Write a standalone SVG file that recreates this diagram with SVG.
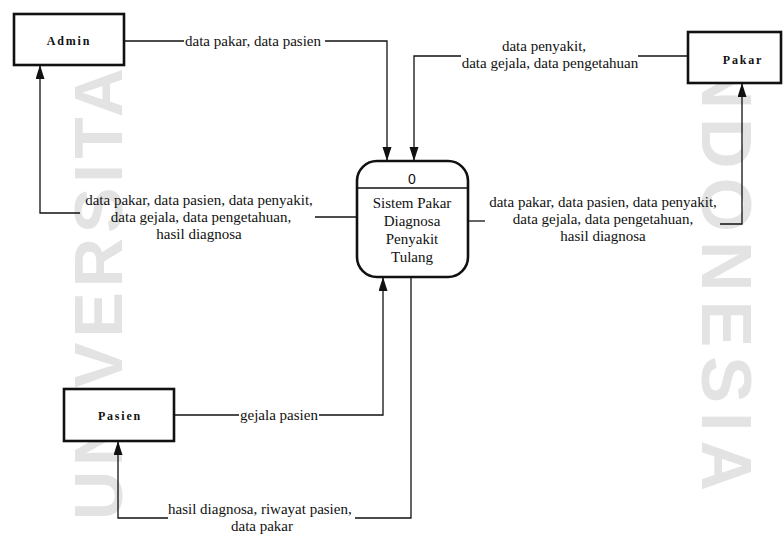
<svg xmlns="http://www.w3.org/2000/svg" width="783" height="534" viewBox="0 0 783 534">
  <style>
    .wm { font-family: "Liberation Sans", Arial, sans-serif; font-weight: bold; fill: #e3e3e3; }
    .lbl { font-family: "Liberation Serif", "Times New Roman", serif; font-size: 15px; fill: #111; }
    .mid { text-anchor: middle; }
    .ent-box { fill: #fff; stroke: #111; stroke-width: 2.6; }
    .ent-txt { font-family: "Liberation Serif", "Times New Roman", serif; font-size: 12px; font-weight: bold; letter-spacing: 1.8px; fill: #111; text-anchor: middle; }
    .proc-box { fill: #fff; stroke: #111; stroke-width: 2.6; }
    .flow { fill: none; stroke: #111; stroke-width: 1.3; }
  </style>
  <defs>
    <marker id="arrow" markerUnits="userSpaceOnUse" markerWidth="15" markerHeight="10" refX="14" refY="4.5" orient="auto">
      <path d="M0,0 L14,4.5 L0,9 z" fill="#111"/>
    </marker>
  </defs>

  <rect width="783" height="534" fill="#fff"/>

  <!-- faint background watermark lettering -->
  <g id="watermark">
    <text class="wm" font-size="68" letter-spacing="5" transform="translate(122,520) rotate(-90)">UNIVERSITAS</text>
    <text class="wm" font-size="70" letter-spacing="9" transform="translate(702,30) rotate(90)">INDONESIA</text>
  </g>

  <!-- data flows -->
  <g id="connectors">
    <!-- Admin -> process -->
    <path class="flow" d="M124,41 H184"/>
    <path class="flow" d="M325,41 H387 V161" marker-end="url(#arrow)"/>
    <text class="lbl" x="185" y="45.5">data pakar, data pasien</text>

    <!-- Pakar -> process -->
    <path class="flow" d="M688,56 H638"/>
    <path class="flow" d="M461,56 H414 V161" marker-end="url(#arrow)"/>
    <text class="lbl mid" x="544" y="51">data penyakit,</text>
    <text class="lbl mid" x="550" y="68">data gejala, data pengetahuan</text>

    <!-- process -> Admin -->
    <path class="flow" d="M357,217 H315"/>
    <path class="flow" d="M80,213 H40 V65" marker-end="url(#arrow)"/>
    <text class="lbl mid" x="199" y="205">data pakar, data pasien, data penyakit,</text>
    <text class="lbl mid" x="201" y="222">data gejala, data pengetahuan,</text>
    <text class="lbl mid" x="199" y="239">hasil diagnosa</text>

    <!-- process -> Pakar -->
    <path class="flow" d="M468,221 H485"/>
    <path class="flow" d="M720,224 H742 V83" marker-end="url(#arrow)"/>
    <text class="lbl mid" x="603" y="207">data pakar, data pasien, data penyakit,</text>
    <text class="lbl mid" x="603" y="224">data gejala, data pengetahuan,</text>
    <text class="lbl mid" x="603" y="241">hasil diagnosa</text>

    <!-- Pasien -> process -->
    <path class="flow" d="M174,415 H239"/>
    <path class="flow" d="M319,415 H383 V277" marker-end="url(#arrow)"/>
    <text class="lbl" x="240" y="419.5">gejala pasien</text>

    <!-- process -> Pasien -->
    <path class="flow" d="M411,277 V518 H355"/>
    <path class="flow" d="M168,518 H118 V441" marker-end="url(#arrow)"/>
    <text class="lbl" x="168" y="514">hasil diagnosa, riwayat pasien,</text>
    <text class="lbl mid" x="262" y="530.5" font-size="14">data pakar</text>
  </g>

  <!-- external entities -->
  <g id="admin">
    <rect class="ent-box" x="14" y="14" width="110" height="51"/>
    <text class="ent-txt" x="69" y="45">Admin</text>
  </g>
  <g id="pakar">
    <rect class="ent-box" x="688" y="32" width="93" height="51"/>
    <text class="ent-txt" x="743" y="64">Pakar</text>
  </g>
  <g id="pasien">
    <rect class="ent-box" x="64" y="389" width="110" height="52"/>
    <text class="ent-txt" x="120" y="420">Pasien</text>
  </g>

  <!-- process 0 -->
  <g id="process-0">
    <rect class="proc-box" x="357" y="161" width="111" height="116" rx="20" ry="20"/>
    <path d="M357,188 H468" stroke="#111" stroke-width="1.6"/>
    <text x="412" y="184" text-anchor="middle" font-family="Liberation Sans, Arial, sans-serif" font-size="14" fill="#111">0</text>
    <text class="lbl mid" x="412" y="208">Sistem Pakar</text>
    <text class="lbl mid" x="412" y="226">Diagnosa</text>
    <text class="lbl mid" x="412" y="244">Penyakit</text>
    <text class="lbl mid" x="412" y="262">Tulang</text>
  </g>
</svg>
